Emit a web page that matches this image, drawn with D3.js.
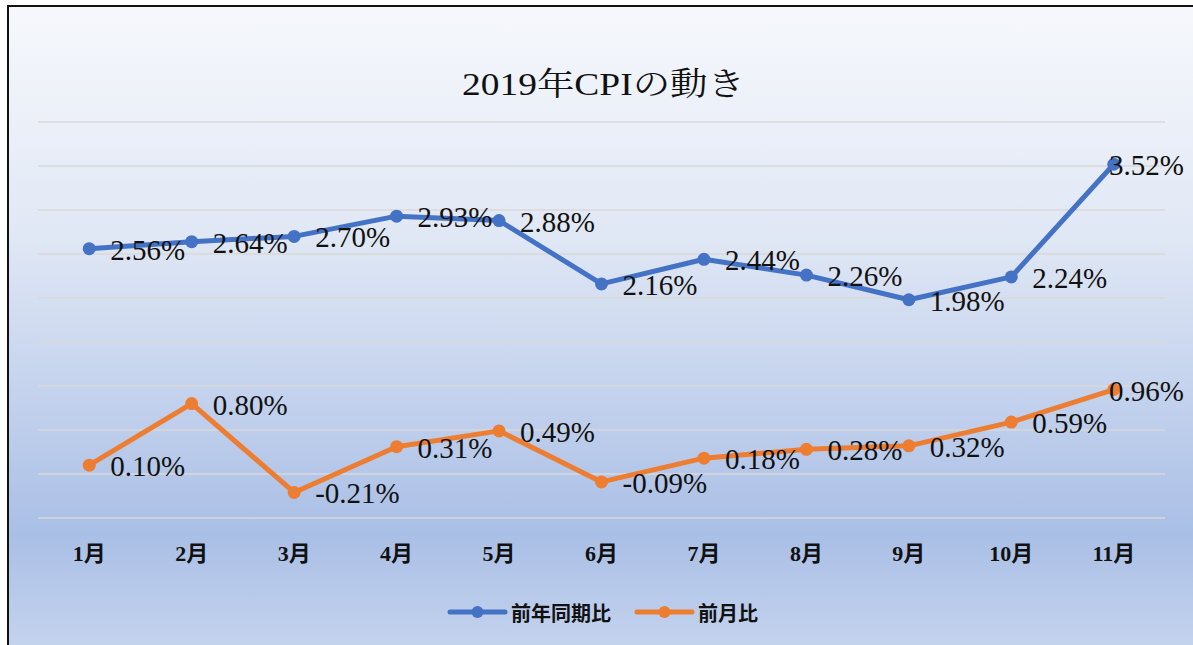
<!DOCTYPE html>
<html>
<head>
<meta charset="utf-8">
<script src="https://cdn.jsdelivr.net/npm/d3@7"></script>
<style>
  html, body { margin: 0; padding: 0; background: #fff; }
  svg { display: block; }
</style>
</head>
<body>
<div id="chart"></div>
<script>
// data
var months = ["1月", "2月", "3月", "4月", "5月", "6月", "7月", "8月", "9月", "10月", "11月"];
var yoy = [2.56, 2.64, 2.70, 2.93, 2.88, 2.16, 2.44, 2.26, 1.98, 2.24, 3.52];   // 前年同期比
var mom = [0.10, 0.80, -0.21, 0.31, 0.49, -0.09, 0.18, 0.28, 0.32, 0.59, 0.96]; // 前月比
var seriesNames = ["前年同期比", "前月比"];
var yTicks = [-0.5, 0, 0.5, 1, 1.5, 2, 2.5, 3, 3.5, 4];

var W = 1193, H = 645;
var colors = ["#4472c4", "#ed7d31"];

var svg = d3.select("#chart").append("svg")
    .attr("width", W)
    .attr("height", H);

// background gradient
var defs = svg.append("defs");
var grad = defs.append("linearGradient")
    .attr("id", "bg")
    .attr("x1", 0).attr("y1", 0).attr("x2", 0).attr("y2", 1);
grad.append("stop").attr("offset", "0%").attr("stop-color", "#f6f8fc");
grad.append("stop").attr("offset", "35%").attr("stop-color", "#e1e8f5");
grad.append("stop").attr("offset", "82%").attr("stop-color", "#aabfe6");
grad.append("stop").attr("offset", "100%").attr("stop-color", "#c5d4ee");

svg.append("rect")
    .attr("x", 8).attr("y", 6)
    .attr("width", W + 10).attr("height", H)
    .attr("fill", "url(#bg)")
    .attr("stroke", "#111")
    .attr("stroke-width", 2);

// scales
var x = d3.scaleBand()
    .domain(months)
    .range([38, 1165]);

var y = d3.scaleLinear()
    .domain([-0.5, 4])
    .range([518, 122]);

var cx = function (d, i) { return x(months[i]) + x.bandwidth() / 2; };

// gridlines
svg.append("g")
    .selectAll("line")
    .data(yTicks)
    .enter().append("line")
    .attr("x1", 38).attr("x2", 1165)
    .attr("y1", function (d) { return y(d); })
    .attr("y2", function (d) { return y(d); })
    .attr("stroke", "#d9d9d9")
    .attr("stroke-width", 1.5);

// title
svg.append("text")
    .attr("x", 462).attr("y", 84)
    .attr("dominant-baseline", "central")
    .attr("textLength", 283)
    .attr("lengthAdjust", "spacingAndGlyphs")
    .style("font-family", "'Liberation Serif', 'Noto Serif CJK JP', 'Noto Sans CJK JP', serif")
    .style("font-size", "32px")
    .attr("fill", "#111")
    .text("2019年CPIの動き");

// x axis labels
var xAxis = d3.axisBottom(x).tickSize(0).tickPadding(0);
var gx = svg.append("g")
    .attr("transform", "translate(0,553)")
    .call(xAxis);
gx.select(".domain").remove();
gx.selectAll("text")
    .attr("dy", null)
    .attr("dominant-baseline", "central")
    .style("font-family", "'Liberation Serif', 'Noto Sans CJK JP', serif")
    .style("font-size", "22px")
    .style("font-weight", "bold")
    .attr("fill", "#111");

// lines + points + labels
var line = d3.line()
    .x(cx)
    .y(function (d) { return y(d); });

[yoy, mom].forEach(function (vals, k) {
    var g = svg.append("g");
    g.append("path")
        .datum(vals)
        .attr("d", line)
        .attr("fill", "none")
        .attr("stroke", colors[k])
        .attr("stroke-width", 5)
        .attr("stroke-linejoin", "round")
        .attr("stroke-linecap", "round");

    g.selectAll("circle")
        .data(vals)
        .enter().append("circle")
        .attr("cx", cx)
        .attr("cy", function (d) { return y(d); })
        .attr("r", 6.5)
        .attr("fill", colors[k]);

    g.selectAll("text")
        .data(vals)
        .enter().append("text")
        .attr("x", function (d, i) { return cx(d, i) + 21; })
        .attr("y", function (d) { return y(d) + 1; })
        .attr("dominant-baseline", "central")
        .style("font-family", "'Liberation Serif', serif")
        .style("font-size", "29px")
        .attr("fill", "#111")
        .text(function (d) { return d.toFixed(2) + "%"; })
        .each(function () {
            // keep labels inside the chart on the right side
            var t = d3.select(this);
            var w = this.getComputedTextLength();
            var lx = +t.attr("x");
            if (lx + w > 1184) t.attr("x", 1184 - w);
        });
});

// legend
var legendX = [450, 637];
var legend = svg.append("g");
seriesNames.forEach(function (name, k) {
    var lg = legend.append("g")
        .attr("transform", "translate(" + legendX[k] + ",612)");
    lg.append("line")
        .attr("x1", 0).attr("x2", 55)
        .attr("y1", 0).attr("y2", 0)
        .attr("stroke", colors[k])
        .attr("stroke-width", 5)
        .attr("stroke-linecap", "round");
    lg.append("circle")
        .attr("cx", 27.5).attr("cy", 0)
        .attr("r", 6)
        .attr("fill", colors[k]);
    lg.append("text")
        .attr("x", 61).attr("y", 0)
        .attr("dominant-baseline", "central")
        .style("font-family", "'Noto Sans CJK JP', sans-serif")
        .style("font-size", "20px")
        .style("font-weight", "bold")
        .attr("fill", "#111")
        .text(name);
});
</script>
</body>
</html>
